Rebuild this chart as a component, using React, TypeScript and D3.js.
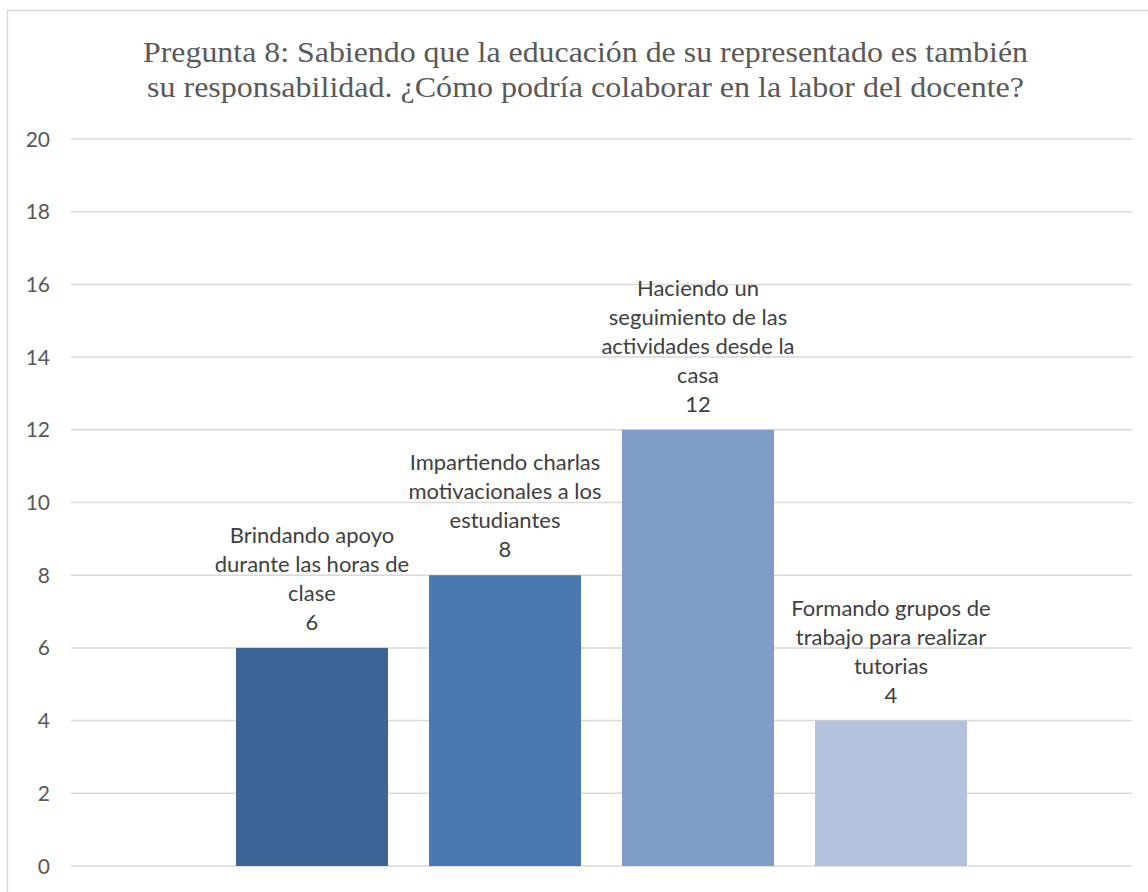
import React from "react";
import * as d3 from "d3";

const titleLines = [
  "Pregunta 8: Sabiendo que la educación de su representado es también",
  "su responsabilidad. ¿Cómo podría colaborar en la labor del docente?",
];
const categories = [
  "Brindando apoyo durante las horas de clase",
  "Impartiendo charlas motivacionales a los estudiantes",
  "Haciendo un seguimiento de las actividades desde la casa",
  "Formando grupos de trabajo para realizar tutorias",
];
const labelLines = [
  ["Brindando apoyo", "durante las horas de", "clase"],
  ["Impartiendo charlas", "motivacionales a los", "estudiantes"],
  ["Haciendo un", "seguimiento de las", "actividades desde la", "casa"],
  ["Formando grupos de", "trabajo para realizar", "tutorias"],
];
const values = [6, 8, 12, 4];
const colors = ["#3D6595", "#4A79B0", "#7F9DC8", "#B3C2DD"];
const yTicks = [0, 2, 4, 6, 8, 10, 12, 14, 16, 18, 20];

export default function App() {
  const W = 1148;
  const H = 892;
  const plotLeft = 71;
  const plotRight = 1132;
  const plotTop = 139;
  const plotBottom = 866;
  const step = 193;
  const inner = (plotRight - plotLeft - step * categories.length) / 2;

  const x = d3
    .scaleBand<string>()
    .domain(categories)
    .range([plotLeft + inner, plotRight - inner])
    .paddingInner(41 / 193)
    .paddingOuter(41 / 193 / 2);
  const y = d3.scaleLinear().domain([0, 20]).range([plotBottom, plotTop]);

  const labelFont = "Lato, 'Liberation Sans', Arial, sans-serif";
  const lineH = 29;
  const titleWidths = [885, 877];

  return (
    <div style={{ position: "fixed", left: 0, top: 0 }}>
      <svg width={W} height={H} style={{ display: "block", background: "#fff" }}>
        <rect x={7.5} y={10.5} width={1160} height={900} fill="#fff" stroke="#d9d9d9" strokeWidth={1.5} />
        {titleLines.map((t, i) => (
          <text
            key={i}
            x={585.5}
            y={62 + i * 35}
            textAnchor="middle"
            fontFamily="'Liberation Serif', 'Times New Roman', serif"
            fontSize={29}
            fill="#595959"
            textLength={titleWidths[i]}
            lengthAdjust="spacingAndGlyphs"
          >
            {t}
          </text>
        ))}
        {yTicks.map((t) => (
          <g key={t}>
            <line x1={plotLeft} x2={plotRight} y1={y(t)} y2={y(t)} stroke="#d9d9d9" strokeWidth={1.5} />
            <text
              x={50}
              y={y(t) + 7.5}
              textAnchor="end"
              fontFamily={labelFont}
              fontSize={21}
              fill="#595959"
            >
              {t}
            </text>
          </g>
        ))}
        {categories.map((c, i) => {
          const bx = x(c)!;
          const bw = x.bandwidth();
          const top = y(values[i]);
          const cx = bx + bw / 2;
          const lines = [...labelLines[i], String(values[i])];
          const base = top - 18;
          return (
            <g key={c}>
              <rect x={bx} y={top} width={bw} height={plotBottom - top} fill={colors[i]} />
              {lines.map((l, j) => (
                <text
                  key={j}
                  x={cx}
                  y={base - (lines.length - 1 - j) * lineH}
                  textAnchor="middle"
                  fontFamily={labelFont}
                  fontSize={22}
                  fill="#404040"
                >
                  {l}
                </text>
              ))}
            </g>
          );
        })}
      </svg>
    </div>
  );
}
